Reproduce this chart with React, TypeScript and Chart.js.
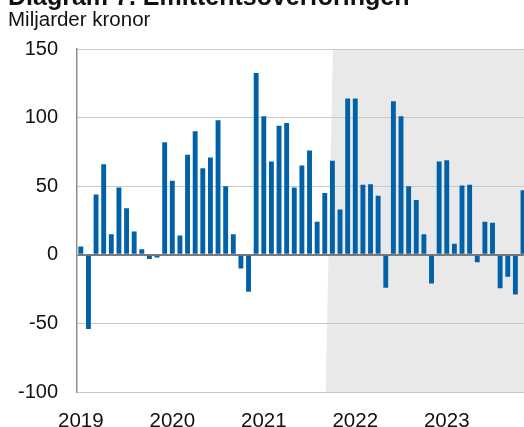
import React, { useEffect, useRef } from "react";
import { Chart, registerables } from "chart.js";

Chart.register(...registerables);

const title = "Diagram 7. Emittentsöverföringen";
const unitLabel = "Miljarder kronor";

const years = ["2019", "2020", "2021", "2022", "2023"];
const values2019 = [6, -54, 44, 66, 15, 49, 34, 17, 4, -3, -2, 82];
const values2020 = [54, 14, 73, 90, 63, 71, 98, 50, 15, -10, -27, 132.5];
const values2021 = [101, 68, 94, 96, 49, 65, 76, 24, 45, 68.5, 33, 114];
const values2022 = [114, 51, 51.5, 43, -24, 112, 101, 50, 40, 15, -21, 68];
const values2023 = [69, 8, 50.5, 51, -5.4, 24, 23.4, -24.4, -16, -29, 47];
const yTicks = [-100, -50, 0, 50, 100, 150];

// shaded period, in category positions (bottom edge, top edge)
const shadeStartBottom = 32.12;
const shadeStartTop = 33.07;

const BLUE = "#0061a8";
const FONT = '"Liberation Sans", Arial, Helvetica, sans-serif';
const CANVAS_W = 540;

const shadePlugin = {
  id: "shade",
  beforeDraw(chart: any) {
    const { ctx, chartArea, scales } = chart;
    const x = scales.x;
    const xb = x.getPixelForValue(shadeStartBottom);
    const xt = x.getPixelForValue(shadeStartTop);
    ctx.save();
    ctx.fillStyle = "#e9e9e9";
    ctx.beginPath();
    ctx.moveTo(xt, chartArea.top);
    ctx.lineTo(chartArea.right + 30, chartArea.top);
    ctx.lineTo(chartArea.right + 30, chartArea.bottom);
    ctx.lineTo(xb, chartArea.bottom);
    ctx.closePath();
    ctx.fill();
    ctx.restore();
  },
};

export default function App() {
  const ref = useRef<HTMLCanvasElement | null>(null);

  useEffect(() => {
    const series = [values2019, values2020, values2021, values2022, values2023];
    const labels: string[] = [];
    const data: number[] = [];
    series.forEach((vals, yi) => {
      vals.forEach((v, mi) => {
        labels.push(`${years[yi]}-${mi + 1}`);
        data.push(v);
      });
    });

    const chart = new Chart(ref.current as HTMLCanvasElement, {
      type: "bar",
      data: {
        labels,
        datasets: [
          {
            data,
            backgroundColor: BLUE,
            borderWidth: 0,
            categoryPercentage: 1,
            barPercentage: 0.64,
          },
        ],
      },
      plugins: [shadePlugin],
      options: {
        animation: false,
        responsive: false,
        devicePixelRatio: 1,
        layout: { padding: { top: 49, left: 0, right: 0, bottom: 0 } },
        plugins: {
          legend: { display: false },
          tooltip: { enabled: false },
          title: { display: false },
        },
        scales: {
          x: {
            type: "category",
            grid: { display: false, drawTicks: false },
            border: { display: false },
            ticks: {
              autoSkip: false,
              maxRotation: 0,
              minRotation: 0,
              padding: 17,
              color: "#111",
              font: { family: FONT, size: 20.5 },
              callback: function (this: any, value: any) {
                const lab = String(this.getLabelForValue(value));
                const [yr, m] = lab.split("-");
                return m === "1" ? yr : "";
              },
            },
            afterFit(scale: any) {
              scale.height = 35;
            },
          },
          y: {
            min: yTicks[0],
            max: yTicks[yTicks.length - 1],
            afterBuildTicks(scale: any) {
              scale.ticks = yTicks.map((v) => ({ value: v }));
            },
            grid: {
              drawTicks: false,
              color: (c: any) => (c.tick && c.tick.value === 0 ? "#7a7a7a" : "#c9c9c9"),
              lineWidth: (c: any) => (c.tick && c.tick.value === 0 ? 2 : 1),
            },
            border: { display: true, color: "#8f8f8f", width: 1.5 },
            ticks: {
              padding: 19,
              color: "#111",
              font: { family: FONT, size: 20 },
            },
            afterFit(scale: any) {
              scale.width = 77;
            },
          },
        },
      },
    });
    return () => chart.destroy();
  }, []);

  return (
    <div
      style={{
        position: "fixed",
        left: 0,
        top: 0,
        width: 524,
        height: 427,
        overflow: "hidden",
        background: "#fff",
        fontFamily: FONT,
        color: "#111",
      }}
    >
      <canvas
        ref={ref}
        width={CANVAS_W}
        height={427}
        style={{ position: "absolute", left: 0, top: 0, width: CANVAS_W, height: 427 }}
      />
      <div
        style={{
          position: "absolute",
          left: 8,
          top: -16,
          fontSize: 25,
          lineHeight: "24px",
          fontWeight: "bold",
          whiteSpace: "nowrap",
        }}
      >
        {title}
      </div>
      <div
        style={{
          position: "absolute",
          left: 8,
          top: 8.6,
          fontSize: 20.5,
          lineHeight: "20.5px",
          whiteSpace: "nowrap",
        }}
      >
        {unitLabel}
      </div>
    </div>
  );
}
